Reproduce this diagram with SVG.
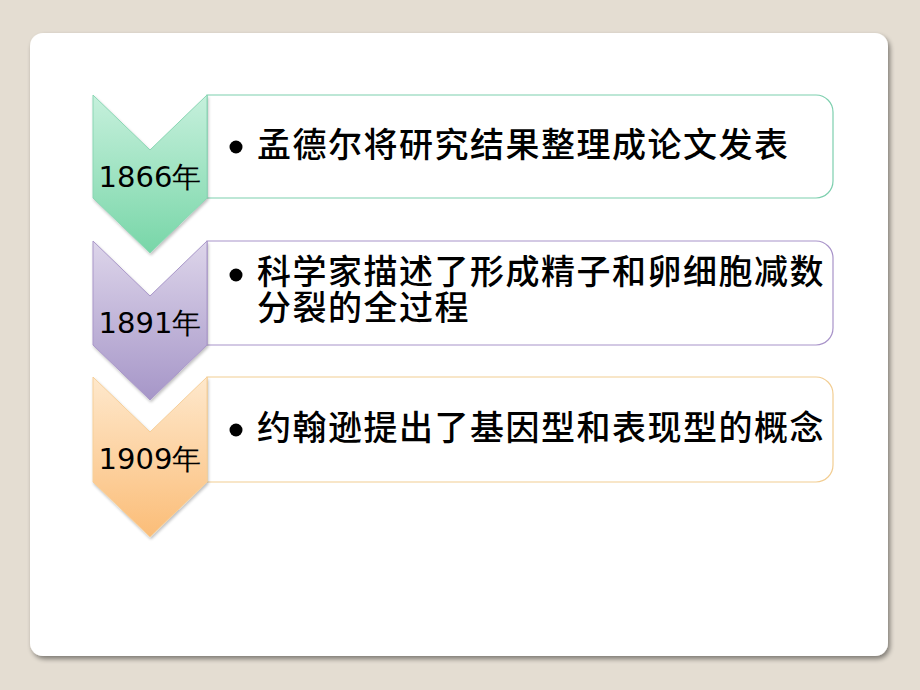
<svg xmlns="http://www.w3.org/2000/svg" width="920" height="690" viewBox="0 0 920 690">
  <defs>
    <linearGradient id="gGreen" x1="0" y1="0" x2="0" y2="1">
      <stop offset="0" stop-color="#c6f0dc"/>
      <stop offset="1" stop-color="#78d6a8"/>
    </linearGradient>
    <linearGradient id="gPurple" x1="0" y1="0" x2="0" y2="1">
      <stop offset="0" stop-color="#ddd5ea"/>
      <stop offset="1" stop-color="#a696c8"/>
    </linearGradient>
    <linearGradient id="gOrange" x1="0" y1="0" x2="0" y2="1">
      <stop offset="0" stop-color="#fee8cc"/>
      <stop offset="1" stop-color="#fbbd78"/>
    </linearGradient>
    <filter id="cardShadow" x="-5%" y="-5%" width="110%" height="110%">
      <feGaussianBlur in="SourceAlpha" stdDeviation="2.5"/>
      <feOffset dx="2" dy="3" result="b"/>
      <feComponentTransfer><feFuncA type="linear" slope="0.45"/></feComponentTransfer>
      <feMerge><feMergeNode/><feMergeNode in="SourceGraphic"/></feMerge>
    </filter>
    <filter id="chevShadow" x="-10%" y="-10%" width="120%" height="120%">
      <feGaussianBlur in="SourceAlpha" stdDeviation="1.5"/>
      <feOffset dx="1" dy="2" result="b"/>
      <feComponentTransfer><feFuncA type="linear" slope="0.25"/></feComponentTransfer>
      <feMerge><feMergeNode/><feMergeNode in="SourceGraphic"/></feMerge>
    </filter>
  </defs>
  <style>
    .year { font-family: "DejaVu Sans", Verdana, sans-serif; font-size: 29px; fill: #000; text-anchor: middle; }
    .item { font-family: "Noto Sans CJK SC", "Noto Sans CJK TC", sans-serif; font-size: 34px; font-weight: 500; letter-spacing: 1.5px; fill: #000; }
    .box { fill: #ffffff; stroke-width: 1.2; }
  </style>
  <rect width="920" height="690" fill="#e4ddd2"/>
  <rect x="30" y="33" width="858" height="623" rx="13" fill="#ffffff" filter="url(#cardShadow)"/>

  <g id="step1866">
    <path class="box" d="M207,95 H816 A17,17 0 0 1 833,112 V181 A17,17 0 0 1 816,198 H207 Z" stroke="#7dcfae"/>
    <polygon points="93,95 150,150 207,95 207,198 150,253 93,198" fill="url(#gGreen)" stroke="#8ad6b4" stroke-width="1" filter="url(#chevShadow)"/>
    <text class="year" x="150" y="187">1866年</text>
    <circle cx="236" cy="147" r="6.5" fill="#000"/>
    <text class="item" x="257" y="157">孟德尔将研究结果整理成论文发表</text>
  </g>

  <g id="step1891">
    <path class="box" d="M207,241 H816 A17,17 0 0 1 833,258 V328 A17,17 0 0 1 816,345 H207 Z" stroke="#a893c9"/>
    <polygon points="93,241 150,296 207,241 207,345 150,400 93,345" fill="url(#gPurple)" stroke="#a997c9" stroke-width="1" filter="url(#chevShadow)"/>
    <text class="year" x="150" y="333">1891年</text>
    <circle cx="236" cy="275" r="6.5" fill="#000"/>
    <text class="item" x="257" y="284">科学家描述了形成精子和卵细胞减数</text>
    <text class="item" x="257" y="320">分裂的全过程</text>
  </g>

  <g id="step1909">
    <path class="box" d="M207,377 H816 A17,17 0 0 1 833,394 V465 A17,17 0 0 1 816,482 H207 Z" stroke="#f2cd92"/>
    <polygon points="93,377 150,432 207,377 207,482 150,537 93,482" fill="url(#gOrange)" stroke="#f6cf9a" stroke-width="1" filter="url(#chevShadow)"/>
    <text class="year" x="150" y="469">1909年</text>
    <circle cx="236" cy="430" r="6.5" fill="#000"/>
    <text class="item" x="257" y="440">约翰逊提出了基因型和表现型的概念</text>
  </g>

  <g id="connectors"></g>
</svg>
